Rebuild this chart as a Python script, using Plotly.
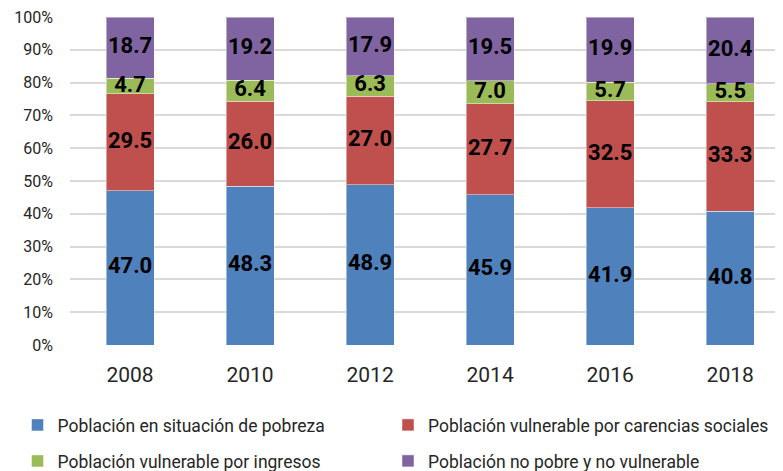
import plotly.graph_objects as go

years = ["2008", "2010", "2012", "2014", "2016", "2018"]
series_names = [
    "Población en situación de pobreza",
    "Población vulnerable por carencias sociales",
    "Población vulnerable por ingresos",
    "Población no pobre y no vulnerable",
]
pobreza = [47.0, 48.3, 48.9, 45.9, 41.9, 40.8]
carencias = [29.5, 26.0, 27.0, 27.7, 32.5, 33.3]
ingresos = [4.7, 6.4, 6.3, 7.0, 5.7, 5.5]
no_pobre = [18.7, 19.2, 17.9, 19.5, 19.9, 20.4]
y_ticks = [0, 10, 20, 30, 40, 50, 60, 70, 80, 90, 100]
y_tick_labels = [f"{t}%" for t in y_ticks]

colors = ["#4F81BD", "#C0504D", "#9BBB59", "#8064A2"]
all_series = [pobreza, carencias, ingresos, no_pobre]
legend_ids = ["legend", "legend2", "legend3", "legend4"]

FONT = "Roboto, sans-serif"

# normalize each year to 100 so every column tops at 100%
totals = [sum(s[j] for s in all_series) for j in range(len(years))]
norm = [[v * 100 / totals[j] for j, v in enumerate(s)] for s in all_series]

fig = go.Figure()
for name, vals, col, lg in zip(series_names, norm, colors, legend_ids):
    fig.add_trace(go.Bar(
        x=years, y=vals, name=name,
        marker=dict(color=col, line=dict(color="rgba(255,255,255,0.45)", width=1)),
        width=0.4, legend=lg, hoverinfo="skip",
    ))

for i, (raw, vals) in enumerate(zip(all_series, norm)):
    ys = [sum(norm[k][j] for k in range(i)) + vals[j] / 2 for j in range(len(years))]
    fig.add_trace(go.Scatter(
        x=years, y=ys, mode="text", text=[f"{v:.1f}" for v in raw],
        textfont=dict(family=FONT, size=22, color="black", weight="bold"),
        showlegend=False, hoverinfo="skip",
    ))

# page body has an 8px margin, so the figure is sized/placed accordingly
W, H = 775, 463
OFF = 8
leg_common = dict(orientation="h", xref="container", yref="container", xanchor="left",
                  yanchor="middle", font=dict(size=17.5, color="#262626"),
                  bgcolor="rgba(0,0,0,0)")
leg_pos = {"legend": (9.5, 425), "legend2": (380, 425), "legend3": (9.5, 461), "legend4": (380, 461)}
layout_legends = {k: dict(leg_common, x=px / W, y=1 - (py - OFF) / H)
                  for k, (px, py) in leg_pos.items()}

fig.update_layout(
    width=W, height=H,
    barmode="stack",
    plot_bgcolor="white", paper_bgcolor="white",
    margin=dict(l=70 - OFF, r=0, t=17 - OFF, b=H - (345 - OFF), autoexpand=False),
    font=dict(family=FONT, color="#262626"),
    xaxis=dict(range=[-0.5, 5.44], showgrid=False, showline=False, ticks="",
               tickfont=dict(size=21, color="#262626"), ticklabelstandoff=15, automargin=False),
    yaxis=dict(range=[0, 100], tickvals=y_ticks, ticktext=y_tick_labels, showgrid=True,
               gridcolor="#D9D9D9", gridwidth=1.5, zeroline=False, ticks="",
               tickfont=dict(size=16, color="#262626"), ticklabelstandoff=16, automargin=False,
               ticklabeloverflow="allow"),
    showlegend=True,
    **layout_legends,
)

fig.write_html("out.html")
